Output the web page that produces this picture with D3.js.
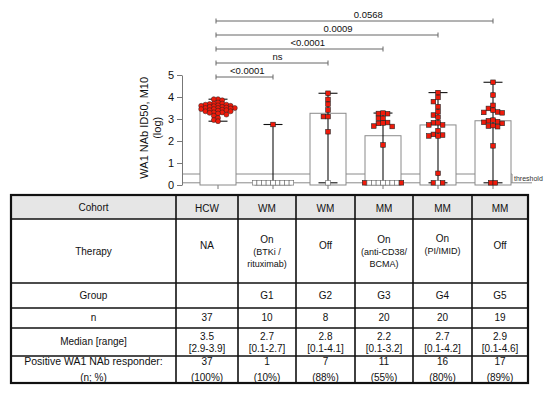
<!DOCTYPE html>
<html>
<head>
<meta charset="utf-8">
<style>
body { margin: 0; background: #fff; }
text { font-family: "Liberation Sans", Arial, sans-serif; fill: #111; }
</style>
</head>
<body>
<svg width="550" height="397"></svg>
<script src="https://d3js.org/d3.v7.min.js"></script>
<script>

// ---- data ----
var groups = ["HCW", "G1", "G2", "G3", "G4", "G5"];

var hcwValues = [3.9, 3.9, 3.85, 3.75, 3.7, 3.7, 3.68, 3.65, 3.65, 3.62,
                 3.6, 3.6, 3.58, 3.55, 3.55, 3.52, 3.5, 3.5, 3.5, 3.48,
                 3.45, 3.45, 3.42, 3.4, 3.4, 3.38, 3.35, 3.35, 3.3, 3.3,
                 3.28, 3.25, 3.2, 3.15, 3.05, 2.95, 2.9];
var g1Filled = [2.75];
var g1Open = [0.1, 0.1, 0.1, 0.1, 0.1, 0.1, 0.1, 0.1, 0.1];
var g2Filled = [4.17, 3.89, 3.67, 3.41, 3.11, 3.11, 2.42];
var g2Open = [0.1];
var g3Filled = [3.27, 3.25, 3.24, 3.03, 3.03, 2.84, 2.82, 2.8, 2.68, 2.66, 1.82, 0.1, 0.1];
var g3Open = [0.1, 0.1, 0.1, 0.1, 0.1, 0.1, 0.1];
var g4Filled = [4.2, 3.98, 3.79, 3.56, 3.33, 3.18, 3.08, 2.83, 2.83, 2.73, 2.73,
                2.47, 2.3, 2.27, 2.23, 2.23, 0.53, 0.1, 0.1];
var g4Open = [0.1];
var g5Filled = [4.67, 4.09, 3.62, 3.48, 3.4, 3.32, 3.3, 3.28, 2.95, 2.92,
                2.88, 2.85, 2.8, 2.7, 2.68, 2.65, 1.78, 0.1, 0.1];
var g5Open = [];

var filledByGroup = [hcwValues, g1Filled, g2Filled, g3Filled, g4Filled, g5Filled];
var openByGroup = [[], g1Open, g2Open, g3Open, g4Open, g5Open];

var thresholdBand = [0.1, 0.5];
var yTicks = [0, 1, 2, 3, 4, 5];

var compareTo = ["G1", "G2", "G3", "G4", "G5"];
var pLabels = ["<0.0001", "ns", "<0.0001", "0.0009", "0.0568"];

// table
var rowLabels = ["Cohort", "Therapy", "Group", "n", "Median [range]", "Positive WA1 NAb responder:|(n; %)"];
var cohorts = ["HCW", "WM", "WM", "MM", "MM", "MM"];
var therapyMain = ["NA", "On", "Off", "On", "On", "Off"];
var therapyDetail = [[], ["(BTKi /", "rituximab)"], [], ["(anti-CD38/", "BCMA)"], ["(PI/IMID)"], []];
var groupNames = ["", "G1", "G2", "G3", "G4", "G5"];
var nValues = [37, 10, 8, 20, 20, 19];
var medians = ["3.5", "2.7", "2.8", "2.2", "2.7", "2.9"];
var ranges = ["[2.9-3.9]", "[0.1-2.7]", "[0.1-4.1]", "[0.1-3.2]", "[0.1-4.2]", "[0.1-4.6]"];
var responders = [37, 1, 7, 11, 16, 17];
var responderPct = ["(100%)", "(10%)", "(88%)", "(55%)", "(80%)", "(89%)"];

// ---- chart ----
var svg = d3.select("svg");

var x = d3.scalePoint().domain(groups).range([218, 493]),
    y = d3.scaleLinear().domain([0, 5]).range([185, 75]);

var barW = 36, sq = 4.6;

// threshold band (behind bars)
var th = svg.append("g").attr("stroke", "#8a8a8a").attr("stroke-width", 1).attr("fill", "none");
th.append("line").attr("x1", 183).attr("x2", 512).attr("y1", y(thresholdBand[1])).attr("y2", y(thresholdBand[1]));
th.append("line").attr("x1", 183).attr("x2", 532).attr("y1", y(thresholdBand[0])).attr("y2", y(thresholdBand[0]));
th.append("line").attr("x1", 512).attr("x2", 512).attr("y1", y(thresholdBand[0])).attr("y2", y(thresholdBand[1]));
svg.append("text").attr("x", 514).attr("y", y(0.3) + 2.5).attr("font-size", 7).style("fill", "#333").text("threshold");

// y axis
var yAxis = svg.append("g")
    .attr("transform", "translate(182,0)")
    .call(d3.axisLeft(y).tickValues(yTicks).tickFormat(d3.format("d"))
          .tickSize(5).tickSizeOuter(0).tickPadding(3));
yAxis.select(".domain").attr("stroke", "#777");
yAxis.selectAll(".tick line").attr("stroke", "#777");
yAxis.selectAll(".tick text").attr("font-size", 11).attr("font-family", "Liberation Sans, Arial, sans-serif").style("fill", "#111");

// x ticks
svg.append("g").selectAll("line").data(groups).enter().append("line")
    .attr("x1", function(d) { return x(d); }).attr("x2", function(d) { return x(d); })
    .attr("y1", y(0) - 1).attr("y2", y(0) + 4)
    .attr("stroke", "#777");

// y title
svg.append("text")
    .attr("transform", "translate(148," + y(2.6) + ") rotate(-90)")
    .attr("text-anchor", "middle").attr("font-size", 11)
    .text("WA1 NAb ID50, M10");
svg.append("text")
    .attr("transform", "translate(161," + y(2.6) + ") rotate(-90)")
    .attr("text-anchor", "middle").attr("font-size", 11)
    .text("(log)");

// per-group stats
var stats = groups.map(function(g, i) {
  var all = filledByGroup[i].concat(openByGroup[i]);
  return { group: g, median: d3.median(all), min: d3.min(all), max: d3.max(all) };
});

// bars
svg.append("g").selectAll("rect").data(stats).enter().append("rect")
    .attr("x", function(d) { return x(d.group) - barW / 2; })
    .attr("y", function(d) { return y(d.median); })
    .attr("width", barW)
    .attr("height", function(d) { return y(0) - y(d.median); })
    .attr("fill", "#fff").attr("stroke", "#8a8a8a").attr("stroke-width", 1);

// range error bars
var eb = svg.append("g").attr("stroke", "#111").attr("stroke-width", 1.1);
stats.forEach(function(d) {
  var cx = x(d.group);
  eb.append("line").attr("x1", cx).attr("x2", cx).attr("y1", y(d.min)).attr("y2", y(d.max));
  eb.append("line").attr("x1", cx - 9.5).attr("x2", cx + 9.5).attr("y1", y(d.max)).attr("y2", y(d.max));
  eb.append("line").attr("x1", cx - 9.5).attr("x2", cx + 9.5).attr("y1", y(d.min)).attr("y2", y(d.min));
});

// layout of points: floor row laid side by side, others as a small beeswarm
function layout(gi) {
  var filled = filledByGroup[gi].map(function(v) { return { v: v, open: false }; });
  var open = openByGroup[gi].map(function(v) { return { v: v, open: true }; });
  var floorVal = 0.1;
  var floorFilled = filled.filter(function(p) { return p.v === floorVal; });
  var rest = filled.filter(function(p) { return p.v !== floorVal; });
  var half = Math.floor(floorFilled.length / 2);
  var row = floorFilled.slice(0, half).concat(open, floorFilled.slice(half));
  var cx = x(groups[gi]);
  var step = gi === 0 ? 4.2 : sq;
  var gapY = gi === 0 ? 2.4 : sq;
  var pts = [];
  row.forEach(function(p, i) {
    p.px = cx + (i - (row.length - 1) / 2) * sq;
    p.py = y(p.v);
    pts.push(p);
  });
  var placed = [];
  rest.sort(function(a, b) { return b.v - a.v; }).forEach(function(p) {
    p.py = y(p.v);
    for (var k = 0; k < 40; k++) {
      var off = (k % 2 ? -1 : 1) * Math.ceil(k / 2) * step;
      var ok = placed.every(function(q) {
        return Math.abs(q.px - (cx + off)) >= step - 0.01 || Math.abs(q.py - p.py) >= gapY;
      });
      if (ok) { p.px = cx + off; break; }
    }
    placed.push(p);
    pts.push(p);
  });
  return pts;
}

var ptsG = svg.append("g");
groups.forEach(function(g, gi) {
  var pts = layout(gi);
  if (gi === 0) {
    ptsG.selectAll(null).data(pts).enter().append("circle")
        .attr("cx", function(d) { return d.px; })
        .attr("cy", function(d) { return d.py; })
        .attr("r", 2.5)
        .attr("fill", "#f01a0a").attr("stroke", "#222").attr("stroke-width", 0.5);
  } else {
    ptsG.selectAll(null).data(pts).enter().append("rect")
        .attr("x", function(d) { return d.px - sq / 2; })
        .attr("y", function(d) { return d.py - sq / 2; })
        .attr("width", sq).attr("height", sq)
        .attr("fill", function(d) { return d.open ? "#fff" : "#f01a0a"; })
        .attr("stroke", function(d) { return d.open ? "#666" : "#222"; })
        .attr("stroke-width", 0.6);
  }
});

// significance brackets
var br = svg.append("g");
compareTo.forEach(function(g, i) {
  var yy = 77 - i * 14;
  var x1 = x("HCW") - 2, x2 = x(g);
  br.append("line").attr("x1", x1).attr("x2", x2).attr("y1", yy).attr("y2", yy).attr("stroke", "#666");
  br.append("line").attr("x1", x1).attr("x2", x1).attr("y1", yy - 2.5).attr("y2", yy + 2.5).attr("stroke", "#666");
  br.append("line").attr("x1", x2).attr("x2", x2).attr("y1", yy - 2.5).attr("y2", yy + 2.5).attr("stroke", "#666");
  br.append("text").attr("x", x1 + (x2 - x1) * 0.55).attr("y", yy - 3.5)
      .attr("text-anchor", "middle").attr("font-size", 9.5).text(pLabels[i]);
});

// ---- table ----
var colEdges = [11, 176, 238, 296, 355, 413, 472, 528];
var rowEdges = [195, 219, 283, 308, 328, 356, 383];
var tbl = svg.append("g");

tbl.append("rect").attr("x", colEdges[0]).attr("y", rowEdges[0])
    .attr("width", colEdges[7] - colEdges[0]).attr("height", rowEdges[1] - rowEdges[0])
    .attr("fill", "#e6e6e6");

rowEdges.slice(1, -1).forEach(function(r) {
  tbl.append("line").attr("x1", colEdges[0]).attr("x2", colEdges[7]).attr("y1", r).attr("y2", r)
      .attr("stroke", "#111").attr("stroke-width", 1.6);
});
colEdges.slice(1, -1).forEach(function(c) {
  tbl.append("line").attr("x1", c).attr("x2", c).attr("y1", rowEdges[0]).attr("y2", rowEdges[6])
      .attr("stroke", "#111").attr("stroke-width", 1.6);
});
tbl.append("rect").attr("x", colEdges[0]).attr("y", rowEdges[0])
    .attr("width", colEdges[7] - colEdges[0]).attr("height", rowEdges[6] - rowEdges[0])
    .attr("fill", "none").attr("stroke", "#111").attr("stroke-width", 2.2);

function cellText(col, yy, txt, size) {
  tbl.append("text").attr("x", (colEdges[col] + colEdges[col + 1]) / 2).attr("y", yy)
      .attr("text-anchor", "middle").attr("dominant-baseline", "middle")
      .attr("font-size", size || 10).text(txt);
}

// row labels
cellText(0, 208, rowLabels[0], 10);
cellText(0, 252, rowLabels[1], 10);
cellText(0, 296, rowLabels[2], 10);
cellText(0, 318, rowLabels[3], 10);
cellText(0, 342, rowLabels[4], 10);
cellText(0, 362, rowLabels[5].split("|")[0], 10.5);
cellText(0, 378, rowLabels[5].split("|")[1], 10);

groups.forEach(function(g, i) {
  var c = i + 1;
  cellText(c, 209, cohorts[i], 10);
  var det = therapyDetail[i];
  if (det.length === 0) {
    cellText(c, 246, therapyMain[i], 10);
  } else {
    var top = det.length === 2 ? 240 : 239;
    cellText(c, top, therapyMain[i], 10);
    det.forEach(function(t, k) { cellText(c, top + 12.5 * (k + 1), t, 9); });
  }
  cellText(c, 296, groupNames[i], 10);
  cellText(c, 318, nValues[i], 10);
  cellText(c, 337, medians[i], 10);
  cellText(c, 349, ranges[i], 10);
  cellText(c, 362, responders[i], 10);
  cellText(c, 378, responderPct[i], 10);
});

</script>
</body>
</html>
